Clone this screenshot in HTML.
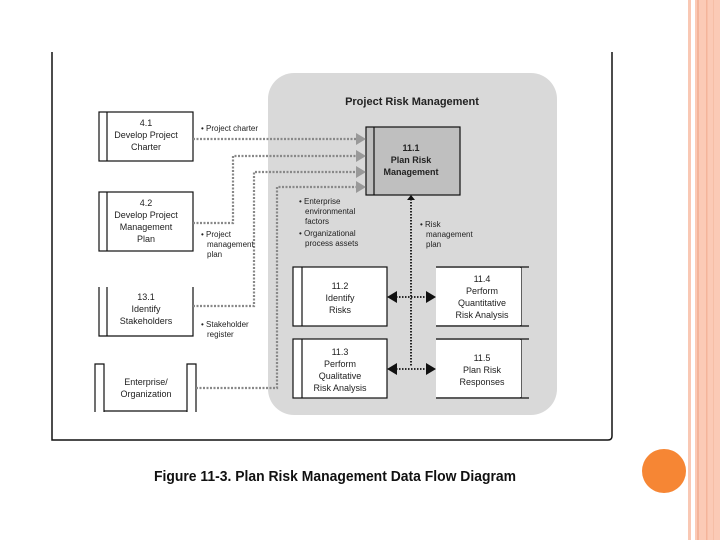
<!DOCTYPE html>
<html><head><style>
html,body{margin:0;padding:0;background:#fff;width:720px;height:540px;overflow:hidden}
text{font-family:"Liberation Sans",sans-serif}
</style></head><body>
<svg width="720" height="540" viewBox="0 0 720 540" xmlns="http://www.w3.org/2000/svg">
<rect x="688" y="0" width="3" height="540" fill="#f9c8b4"/>
<rect x="695" y="0" width="25" height="540" fill="#fbcab6"/>
<rect x="697" y="0" width="2" height="540" fill="#f4b49a"/>
<rect x="706" y="0" width="1.5" height="540" fill="#f4b49a"/>
<rect x="713" y="0" width="1" height="540" fill="#f6bea6"/>
<circle cx="664" cy="471" r="22" fill="#f68634"/>
<path d="M52 52 V440 H608 Q612 440 612 436 V52" fill="none" stroke="#111" stroke-width="1.5"/>
<rect x="268" y="73" width="289" height="342" rx="26" fill="#d9d9d9"/>
<text x="412" y="105" font-size="11" font-weight="bold" text-anchor="middle" fill="#222">Project Risk Management</text>
<g fill="#fff" stroke="#111" stroke-width="1.2">
<rect x="99" y="112" width="94" height="49"/><line x1="107" y1="112" x2="107" y2="161"/>
<rect x="99" y="192" width="94" height="59"/><line x1="107" y1="192" x2="107" y2="251"/>
<path d="M99 287 V336 H193 V287" /><line x1="107" y1="287" x2="107" y2="336"/>
<path d="M95 412 V364 H104 V412 M104 411 H187 M187 412 V364 H196 V412"/>
<rect x="293" y="267" width="94" height="59"/><line x1="302" y1="267" x2="302" y2="326"/>
<rect x="293" y="339" width="94" height="59"/><line x1="302" y1="339" x2="302" y2="398"/>
<path d="M436 267 H529 M436 326 H529 M521 267 V326"/>
<path d="M436 339 H529 M436 398 H529 M521 339 V398"/>
<rect x="436" y="268" width="85" height="57" stroke="none"/>
<rect x="436" y="340" width="85" height="57" stroke="none"/>
<rect x="366" y="127" width="94" height="68" fill="#bfbfbf"/><line x1="374" y1="127" x2="374" y2="195"/>
</g>
<g fill="none" stroke="#888" stroke-width="2.2" stroke-dasharray="2,1.5">
<path d="M193 139 H357"/>
<path d="M193 223 H233 V156 H357"/>
<path d="M193 306 H254 V172 H357"/>
<path d="M196 388 H277 V187 H357"/>
</g>
<g fill="#999">
<path d="M356 133 L366 139 L356 145Z"/><path d="M356 150 L366 156 L356 162Z"/>
<path d="M356 166 L366 172 L356 178Z"/><path d="M356 181 L366 187 L356 193Z"/>
</g>
<g fill="none" stroke="#111" stroke-width="1.8" stroke-dasharray="1.5,1.5">
<path d="M411 199 V366"/><path d="M396 297 H427"/><path d="M396 369 H427"/>
</g>
<g fill="#111">
<path d="M407 200 L411 195 L415 200Z"/>
<path d="M387 297 L397 291 L397 303Z"/><path d="M436 297 L426 291 L426 303Z"/>
<path d="M387 369 L397 363 L397 375Z"/><path d="M436 369 L426 363 L426 375Z"/>
</g>
<g font-size="9" fill="#222" text-anchor="middle">
<text x="146" y="126">4.1</text><text x="146" y="138">Develop Project</text><text x="146" y="150">Charter</text>
<text x="146" y="206">4.2</text><text x="146" y="218">Develop Project</text><text x="146" y="230">Management</text><text x="146" y="242">Plan</text>
<text x="146" y="300">13.1</text><text x="146" y="312">Identify</text><text x="146" y="324">Stakeholders</text>
<text x="146" y="385">Enterprise/</text><text x="146" y="397">Organization</text>
<text x="411" y="151" font-weight="bold">11.1</text><text x="411" y="163" font-weight="bold">Plan Risk</text><text x="411" y="175" font-weight="bold">Management</text>
<text x="340" y="289">11.2</text><text x="340" y="301">Identify</text><text x="340" y="313">Risks</text>
<text x="340" y="355">11.3</text><text x="340" y="367">Perform</text><text x="340" y="379">Qualitative</text><text x="340" y="391">Risk Analysis</text>
<text x="482" y="282">11.4</text><text x="482" y="294">Perform</text><text x="482" y="306">Quantitative</text><text x="482" y="318">Risk Analysis</text>
<text x="482" y="361">11.5</text><text x="482" y="373">Plan Risk</text><text x="482" y="385">Responses</text>
</g>
<g font-size="8" fill="#222">
<text x="201" y="131">• Project charter</text>
<text x="201" y="237">• Project</text><text x="207" y="247">management</text><text x="207" y="257">plan</text>
<text x="201" y="327">• Stakeholder</text><text x="207" y="337">register</text>
<text x="299" y="204">• Enterprise</text><text x="305" y="214">environmental</text><text x="305" y="224">factors</text>
<text x="299" y="236">• Organizational</text><text x="305" y="246">process assets</text>
<text x="420" y="227">• Risk</text><text x="426" y="237">management</text><text x="426" y="247">plan</text>
</g>
<text x="154" y="481" font-size="15" font-weight="bold" fill="#111" textLength="362" lengthAdjust="spacingAndGlyphs">Figure 11-3. Plan Risk Management Data Flow Diagram</text>
</svg>
</body></html>
